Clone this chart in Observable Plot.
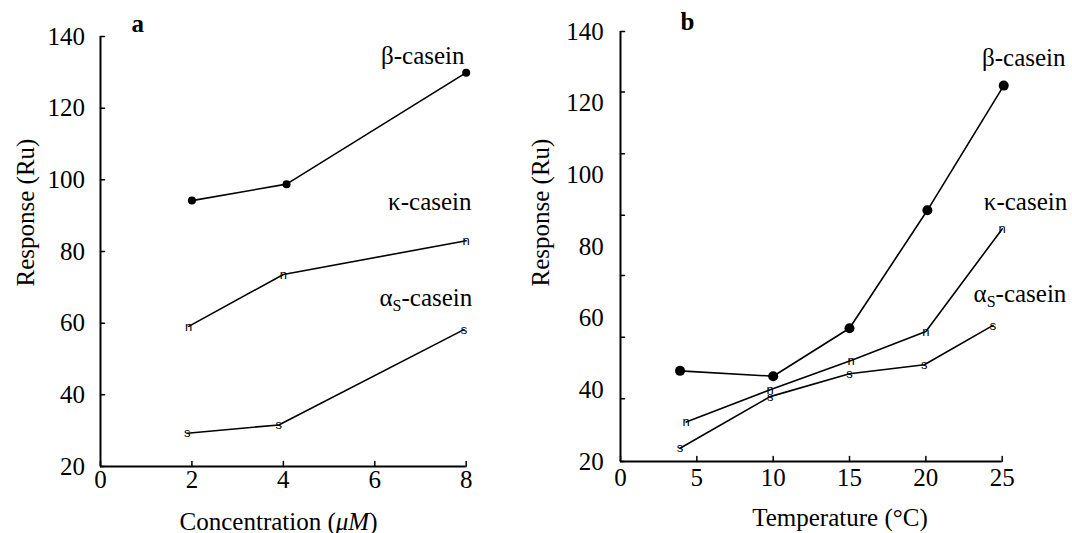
<!DOCTYPE html>
<html><head><meta charset="utf-8">
<script src="https://cdn.jsdelivr.net/npm/d3@7"></script>
<script src="https://cdn.jsdelivr.net/npm/@observablehq/plot@0.6"></script>
<style>
html,body{margin:0;padding:0;background:#fff;overflow:hidden}
#wrap{display:flex;width:1072px;height:533px}
#wrap svg{flex:none}
#wrap svg text{font-family:"Liberation Serif","DejaVu Serif","Times New Roman",serif}
#wrap svg text.mk{font-family:"Liberation Sans","DejaVu Sans",Arial,sans-serif}
</style></head><body><div id="wrap"></div>
<script>
// ---------- Panel a: response vs concentration ----------
const concDomain = [0, 8];
const concTicks = [0, 2, 4, 6, 8];
const respDomain = [20, 140];
const respLabels = [20, 40, 60, 80, 100, 120, 140];
const respTickMarksA = [20, 40, 60, 80, 100, 120, 140];
const concBeta = [2, 4.07, 8];
const respBetaA = [94.2, 98.8, 129.9];
const concKappa = [1.93, 4, 8];
const respKappaA = [59.1, 73.6, 83];
const concAlpha = [1.9, 3.9, 7.95];
const respAlphaA = [29.3, 31.6, 58.2];

// ---------- Panel b: response vs temperature ----------
const tempDomain = [0, 25];
const tempTicks = [0, 5, 10, 15, 20, 25];
const respTickMarksB = [20, 37.5, 54.7, 71.9, 88.7, 105.9, 123.1, 140];
const tempBeta = [3.9, 10, 15, 20.1, 25.1];
const respBetaB = [45.3, 43.8, 57.2, 90.1, 124.9];
const tempKappa = [4.3, 9.8, 15.1, 20, 25];
const respKappaB = [31, 40, 48.2, 56.3, 84.9];
const tempAlpha = [3.9, 9.8, 15, 19.9, 24.4];
const respAlphaB = [23.7, 38.1, 44.5, 47, 58];

const SERIF = "Liberation Serif, DejaVu Serif, serif";
const SANS = "Liberation Sans, DejaVu Sans, sans-serif";
const rows = (xs, ys) => xs.map((x, i) => ({x, y: ys[i]}));
const tickShape = {draw(ctx, l) { ctx.moveTo(0, 0); ctx.lineTo(0, -l); }};

function panel(o) {
  const beta = rows(o.bx, o.by), kappa = rows(o.kx, o.ky), alpha = rows(o.ax, o.ay);
  const lineOpts = {x: "x", y: "y", strokeWidth: 1.6, stroke: "black"};
  const lbl = (data, text, extra) => Plot.text(data, Plot.selectLast({
    x: "x", y: "y", text: () => text, lineAnchor: "bottom",
    fontSize: 25, ...extra}));
  return Plot.plot({
    width: 536, height: 533,
    marginLeft: o.ml, marginRight: o.mr, marginTop: o.mt, marginBottom: o.mb,
    style: {background: "white", overflow: "visible"},
    x: {domain: o.xDomain},
    y: {domain: respDomain},
    marks: [
      Plot.ruleX([o.xDomain[0]], {strokeWidth: 2}),
      Plot.ruleY([respDomain[0]], {strokeWidth: 2}),
      Plot.vector(o.yMarks, {x: () => o.xDomain[0], y: d => d, length: 4, rotate: 90,
        anchor: "start", shape: tickShape, strokeWidth: 1.5}),
      Plot.vector(o.xTicks, {x: d => d, y: () => respDomain[0], length: 5, rotate: 0,
        anchor: "start", shape: tickShape, strokeWidth: 1.5}),
      Plot.axisY({ticks: respLabels, tickSize: 0, tickPadding: o.yPad, label: null, fontSize: 25}),
      Plot.axisX({ticks: o.xTicks, tickSize: 0, tickPadding: o.xPad, label: null, fontSize: 25}),
      Plot.line(beta, lineOpts),
      Plot.line(kappa, lineOpts),
      Plot.line(alpha, lineOpts),
      Plot.dot(beta, {x: "x", y: "y", r: o.r, fill: "black"}),
      Plot.text(kappa, {x: "x", y: "y", text: () => "n", fontSize: 13}),
      Plot.text(alpha, {x: "x", y: "y", text: () => "s", fontSize: 13}),
      lbl(beta, "β-casein", {textAnchor: "end", dx: o.bl[0], dy: o.bl[1]}),
      lbl(kappa, "κ-casein", {textAnchor: "end", dx: o.kl[0], dy: o.kl[1]}),
      lbl(alpha, "αS-casein", {textAnchor: "start", dx: o.al[0], dy: o.al[1]}),
      Plot.text([o.letter], {frameAnchor: "top-left", textAnchor: "start", lineAnchor: "bottom",
        dx: o.letterPos[0], dy: o.letterPos[1], fontSize: 25, fontWeight: "bold"}),
      Plot.text(["Response (Ru)"], {frameAnchor: "left", rotate: -90, textAnchor: "middle",
        lineAnchor: "bottom", dx: o.yt[0], dy: o.yt[1], fontSize: 25}),
      Plot.text([o.xTitle], {frameAnchor: "bottom", textAnchor: "middle", lineAnchor: "bottom",
        dx: o.xt[0], dy: o.xt[1], fontSize: 25})
    ]
  });
}

const svgA = panel({
  xDomain: concDomain, xTicks: concTicks, yMarks: respTickMarksA,
  bx: concBeta, by: respBetaA, kx: concKappa, ky: respKappaA, ax: concAlpha, ay: respAlphaA,
  ml: 100, mr: 70.3, mt: 36, mb: 67, yPad: 15.5, xPad: 4, r: 4,
  bl: [-1.7, -8.2], kl: [5.3, -30.3], al: [-84.4, -24.1],
  letter: "a", letterPos: [31, -4.3], yt: [-67, -39], xt: [-4.8, 63],
  xTitle: "Concentration (μM)"
});
const svgB = panel({
  xDomain: tempDomain, xTicks: tempTicks, yMarks: respTickMarksB,
  bx: tempBeta, by: respBetaB, kx: tempKappa, ky: respKappaB, ax: tempAlpha, ay: respAlphaB,
  ml: 84, mr: 70.3, mt: 31, mb: 72, yPad: 16.7, xPad: 7, r: 5,
  bl: [61.8, -20], kl: [65, -18.5], al: [-19.5, -23],
  letter: "b", letterPos: [60, -1.7], yt: [-72, -34], xt: [28.6, 64],
  xTitle: "Temperature (°C)"
});

const NS = "http://www.w3.org/2000/svg";
function fixTexts(svg) {
  svg.querySelectorAll("text").forEach(t => {
    const c = t.textContent;
    if (c === "n" || c === "s") t.setAttribute("class", "mk");
    if (c === "αS-casein") {
      t.textContent = "α";
      const s = document.createElementNS(NS, "tspan");
      s.setAttribute("dy", "5"); s.setAttribute("font-size", "16"); s.textContent = "S";
      const r = document.createElementNS(NS, "tspan");
      r.setAttribute("dy", "-5"); r.textContent = "-casein";
      t.append(s, r);
    } else if (c === "Concentration (μM)") {
      t.textContent = "Concentration (";
      const s = document.createElementNS(NS, "tspan");
      s.setAttribute("font-style", "italic"); s.textContent = "μM";
      t.append(s, document.createTextNode(")"));
    }
  });
}
fixTexts(svgA); fixTexts(svgB);
document.getElementById("wrap").append(svgA, svgB);
</script>
</body></html>
